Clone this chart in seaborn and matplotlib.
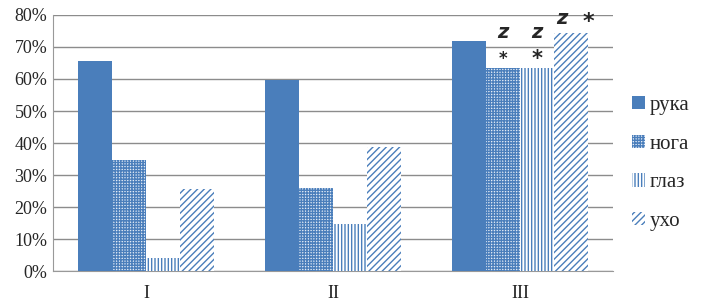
import matplotlib
matplotlib.use("Agg")
import matplotlib.pyplot as plt
import seaborn as sns
import numpy as np
import pandas as pd

# data
groups = ["I", "II", "III"]
parts = ["рука", "нога", "глаз", "ухо"]
ruka = [65.6, 59.7, 71.9]
noga = [34.7, 26.0, 63.4]
glaz = [4.0, 14.7, 63.4]
ukho = [25.6, 38.7, 74.4]

df = pd.DataFrame({
    "group": groups * 4,
    "part": [p for p in parts for _ in groups],
    "value": ruka + noga + glaz + ukho,
})

blue = "#4A7EBB"
hatches = [None, "++++++", "|||||", "/////"]
faces = [blue, "#E4ECF6", "white", "white"]

sns.set_style("white")
plt.rcParams["font.family"] = ["Liberation Serif", "DejaVu Serif"]
plt.rcParams["hatch.linewidth"] = 1.0

fig = plt.figure(figsize=(7.05, 3.05), dpi=100)
ax = fig.add_axes([0.075, 0.111, 0.795, 0.840])

sns.barplot(data=df, x="group", y="value", hue="part", hue_order=parts,
            order=groups, palette=[blue] * 4, width=0.73, ax=ax,
            saturation=1, legend=True, zorder=3)

for cont, h, fc in zip(ax.containers, hatches, faces):
    for bar in cont:
        bar.set_facecolor(fc)
        bar.set_edgecolor(blue if h else "none")
        bar.set_linewidth(0)
        if h:
            bar.set_hatch(h)

ax.set_ylim(0, 80)
ax.set_yticks(np.arange(0, 81, 10))
ax.set_yticklabels([f"{v}%" for v in range(0, 81, 10)], fontsize=13)
ax.set_xlim(-0.5, 2.5)
ax.tick_params(axis="x", labelsize=13, length=0, pad=10)
ax.tick_params(axis="y", length=0, pad=4)
ax.set_xticks([-0.5, 0.5, 1.5, 2.5], minor=True)
ax.tick_params(axis="x", which="minor", length=5, color="#888888", direction="out")
ax.set_xlabel("")
ax.set_ylabel("")
ax.grid(axis="y", color="#8C8C8C", linewidth=1, zorder=0)
for s in ["top", "right"]:
    ax.spines[s].set_visible(False)
for s in ["left", "bottom"]:
    ax.spines[s].set_color("#999999")

# significance marks over group III
cont_noga, cont_glaz, cont_ukho = ax.containers[1], ax.containers[2], ax.containers[3]
for cont, star_size in [(cont_noga, 12), (cont_glaz, 15)]:
    b = cont[2]
    cx = b.get_x() + b.get_width() / 2
    top = b.get_height()
    ax.text(cx, top + 2.8, "*", ha="center", va="center", fontsize=star_size,
            family="DejaVu Sans", fontweight="bold")
    ax.text(cx, top + 8.0, "z", ha="center", va="bottom", fontsize=14,
            family="DejaVu Sans", fontweight="bold", style="italic")
b = cont_ukho[2]
cx = b.get_x() + b.get_width() / 2
top = b.get_height()
ax.text(cx - 0.05, top + 1.6, "z", ha="center", va="bottom", fontsize=14,
        family="DejaVu Sans", fontweight="bold", style="italic")
ax.text(cx + 0.09, top + 3.4, "*", ha="center", va="center", fontsize=16,
        family="DejaVu Sans", fontweight="bold")

handles, labels = ax.get_legend_handles_labels()
for hd, h, fc in zip(handles, hatches, faces):
    hd.set_facecolor(fc)
    hd.set_edgecolor(blue if h else "none")
    hd.set_linewidth(0)
    if h:
        hd.set_hatch(h)
ax.legend(handles, labels, loc="center left", bbox_to_anchor=(1.0, 0.42),
          frameon=False, fontsize=15, handlelength=0.6, handleheight=0.6,
          handletextpad=0.25, labelspacing=0.95)

fig.savefig("out.png", dpi=100)
